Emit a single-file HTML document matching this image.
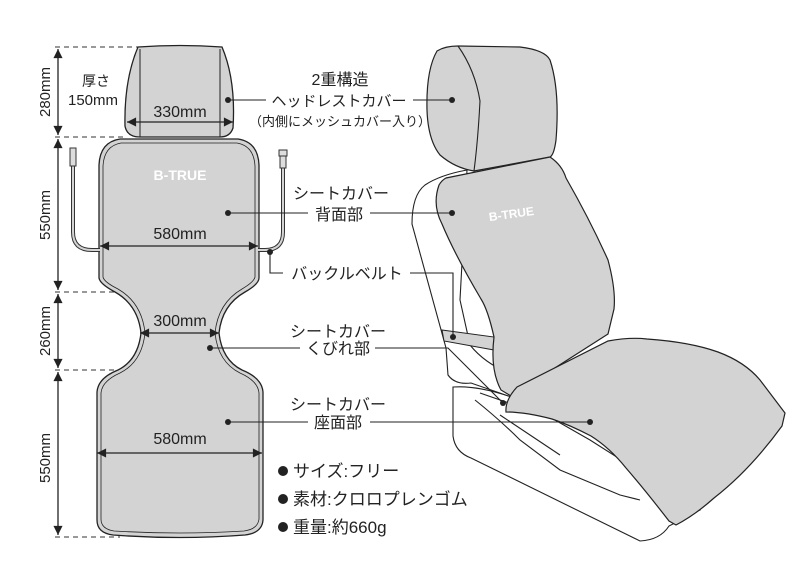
<!DOCTYPE html>
<html><head><meta charset="utf-8"><style>
html,body{margin:0;padding:0;background:#fff}
svg{display:block}
text{font-family:"Liberation Sans","Noto Sans CJK JP",sans-serif;fill:#222}
</style></head><body>
<svg width="800" height="582" viewBox="0 0 800 582" xmlns="http://www.w3.org/2000/svg">
<defs>
<marker id="ar" viewBox="0 0 10 10" refX="10" refY="5" markerWidth="9" markerHeight="7" orient="auto-start-reverse"><path d="M0,0L10,5L0,10z" fill="#222"/></marker>
</defs>
<g stroke="#333" stroke-dasharray="5,4" stroke-width="1">
<line x1="55" y1="47" x2="138" y2="47"/>
<line x1="55" y1="137" x2="125" y2="137"/>
<line x1="55" y1="292" x2="120" y2="292"/>
<line x1="55" y1="370" x2="135" y2="370"/>
<line x1="55" y1="537" x2="120" y2="537"/>
</g>
<g stroke="#222" stroke-width="1.3">
<line x1="58" y1="49" x2="58" y2="135" marker-start="url(#ar)" marker-end="url(#ar)"/>
<line x1="58" y1="139" x2="58" y2="290" marker-start="url(#ar)" marker-end="url(#ar)"/>
<line x1="58" y1="294" x2="58" y2="368" marker-start="url(#ar)" marker-end="url(#ar)"/>
<line x1="58" y1="372" x2="58" y2="535" marker-start="url(#ar)" marker-end="url(#ar)"/>
</g>
<g font-size="15">
<text transform="translate(50,92) rotate(-90)" text-anchor="middle">280mm</text>
<text transform="translate(50,215) rotate(-90)" text-anchor="middle">550mm</text>
<text transform="translate(50,331) rotate(-90)" text-anchor="middle">260mm</text>
<text transform="translate(50,458) rotate(-90)" text-anchor="middle">550mm</text>
</g>
<text x="82" y="86" font-size="14">厚さ</text>
<text x="68" y="105" font-size="15">150mm</text>
<path d="M138,47 Q180,44 222,47 Q236,80 233,128 Q230,137 220,137 L140,137 Q127,137 125,126 Q124,80 138,47Z" fill="#d3d3d3" stroke="#222" stroke-width="1.3"/>
<path d="M140,49 L140,137 M220,49 L220,137" stroke="#222" stroke-width="1"/>
<path d="M120,139 L238,139 Q258,142 259,165 L259,278 Q259,284 245,292 Q222,305 219,333 Q222,360 242,370 Q262,378 263,392 L263,520 Q262,533 245,535 Q180,540 113,535 Q97,533 97,520 L97,392 Q98,378 118,370 Q138,360 141,333 Q138,305 115,292 Q100,284 99,278 L99,165 Q100,142 120,139Z" fill="#d3d3d3" stroke="#222" stroke-width="1.3"/>
<path d="M121,143 L237,143 Q254,146 255,166 L255,277 Q254,282 242,289 Q218,303 215,333 Q218,362 240,373 Q258,381 259,393 L259,519 Q258,529 244,531 Q180,535 114,531 Q101,529 101,519 L101,393 Q102,381 120,373 Q142,362 145,333 Q142,303 118,289 Q104,282 103,277 L103,166 Q104,146 121,143Z" fill="none" stroke="#222" stroke-width="0.8"/>
<text x="180" y="180" font-size="14" font-weight="bold" style="fill:#fff" text-anchor="middle">B-TRUE</text>
<g fill="none" stroke="#333">
<path d="M73,165 L73,232 Q73,250 92,250 L100,250" stroke-width="4"/>
<path d="M73,165 L73,232 Q73,250 92,250 L100,250" stroke="#d3d3d3" stroke-width="2"/>
<path d="M283,165 L283,232 Q283,250 265,250 L258,250" stroke-width="4"/>
<path d="M283,165 L283,232 Q283,250 265,250 L258,250" stroke="#d3d3d3" stroke-width="2"/>
</g>
<rect x="70" y="148" width="6" height="18" fill="#ddd" stroke="#333"/>
<rect x="279" y="150" width="8" height="6" fill="#ddd" stroke="#333"/>
<rect x="280" y="156" width="6" height="12" fill="#ddd" stroke="#333"/>
<g stroke="#222" stroke-width="1.3">
<line x1="127" y1="122" x2="233" y2="122" marker-start="url(#ar)" marker-end="url(#ar)"/>
<line x1="100" y1="246" x2="258" y2="246" marker-start="url(#ar)" marker-end="url(#ar)"/>
<line x1="140" y1="333" x2="219" y2="333" marker-start="url(#ar)" marker-end="url(#ar)"/>
<line x1="97" y1="453" x2="262" y2="453" marker-start="url(#ar)" marker-end="url(#ar)"/>
</g>
<g font-size="16" text-anchor="middle">
<text x="180" y="117">330mm</text>
<text x="180" y="239">580mm</text>
<text x="180" y="326">300mm</text>
<text x="180" y="444">580mm</text>
</g>
<g fill="#fff" stroke="#222" stroke-width="1.1">
<path d="M453,387 L453,436 Q455,452 471,458 L640,541 Q660,540 669,526 L700,510 L590,440 L520,400 Q480,385 453,387Z"/>
<path d="M467,170 Q440,175 425,185 Q412,195 412,224 Q430,290 446,348 L448,375 Q455,385 471,383 L520,400 L530,380 Q490,370 470,345 L460,300 Z"/>
<path d="M475,400 Q500,420 520,440 L560,470 L620,495 L640,500 M500,415 L560,455 M480,393 Q500,400 515,405"/>
</g>
<path d="M442,330 L494,337 L494,350 L444,341Z" fill="#d3d3d3" stroke="#222"/>
<path d="M437,51 Q445,46 458,46 L520,47 Q545,50 550,60 Q560,90 556,140 Q554,155 550,157 L474,171 Q455,168 440,155 Q428,140 427,110 Q426,70 437,51Z" fill="#d3d3d3" stroke="#222" stroke-width="1.2"/>
<path d="M458,46 Q475,70 480,101 Q478,140 474,171" fill="none" stroke="#222" stroke-width="1.1"/>
<path d="M439,185 Q442,180 446,178 L550,157 Q562,165 566,178 Q590,220 608,260 Q616,290 614,309 L608,334 L511,396 L501,390 Q490,370 494,337 Q488,310 481,299 Q455,255 442,224 Q432,205 439,185Z" fill="#d3d3d3" stroke="#222" stroke-width="1.2"/>
<text x="512" y="218" font-size="12" font-weight="bold" style="fill:#fff" text-anchor="middle" transform="rotate(-8 512 218)">B-TRUE</text>
<path d="M517,387 L608,341 Q630,337 647,339 Q690,342 718,352 Q745,362 760,380 L785,413 L782,426 Q750,470 714,498 Q695,515 676,525 L669,521 Q645,490 626,468 Q610,448 591,436 Q570,425 552,419 Q525,412 506,412 Q505,400 517,387Z" fill="#d3d3d3" stroke="#222" stroke-width="1.2"/>
<g stroke="#222" stroke-width="1.1" fill="none">
<line x1="228" y1="100" x2="266" y2="100"/>
<line x1="413" y1="100" x2="452" y2="100"/>
<line x1="228" y1="213" x2="308" y2="213"/>
<line x1="370" y1="213" x2="452" y2="213"/>
<path d="M270,252 L270,273 L283,273"/>
<path d="M410,273 L453,273 L453,337"/>
<line x1="210" y1="348" x2="300" y2="348"/>
<path d="M375,348 L448,348 L503,403"/>
<line x1="228" y1="422" x2="308" y2="422"/>
<line x1="370" y1="422" x2="590" y2="422"/>
</g>
<g fill="#222">
<circle cx="228" cy="100" r="3"/><circle cx="452" cy="100" r="3"/>
<circle cx="228" cy="213" r="3"/><circle cx="452" cy="213" r="3"/>
<circle cx="270" cy="252" r="3"/><circle cx="453" cy="337" r="3"/>
<circle cx="210" cy="348" r="3"/><circle cx="503" cy="403" r="3"/>
<circle cx="228" cy="422" r="3"/><circle cx="590" cy="422" r="3"/>
</g>
<g font-size="16" text-anchor="middle">
<text x="340" y="85">2重構造</text>
<text x="339" y="106" font-size="15">ヘッドレストカバー</text>
<text x="340" y="126" font-size="13">（内側にメッシュカバー入り）</text>
<text x="341" y="199">シートカバー</text>
<text x="339" y="220">背面部</text>
<text x="347" y="279">バックルベルト</text>
<text x="338" y="337">シートカバー</text>
<text x="338" y="354">くびれ部</text>
<text x="338" y="410">シートカバー</text>
<text x="338" y="428">座面部</text>
</g>
<g fill="#222"><circle cx="283" cy="471" r="5"/><circle cx="283" cy="499" r="5"/><circle cx="283" cy="527" r="5"/></g>
<g font-size="17">
<text x="293" y="477">サイズ:フリー</text>
<text x="293" y="505">素材:クロロプレンゴム</text>
<text x="293" y="533">重量:約660g</text>
</g>
</svg>
</body></html>
